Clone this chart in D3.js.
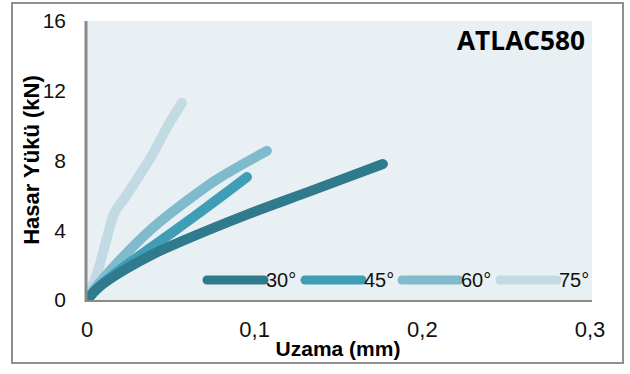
<!DOCTYPE html>
<html>
<head>
<meta charset="utf-8">
<script src="https://cdn.jsdelivr.net/npm/d3@7"></script>
<style>
  body { margin: 0; background: #fff; }
  svg { display: block; font-family: "Liberation Sans", Arial, sans-serif; }
</style>
</head>
<body>
<svg id="chart" width="630" height="374"></svg>
<script>
// series: [uzama (mm), yük (kN)]
const seriesNames = ["30°", "45°", "60°", "75°"];
const seriesColors = ["#2f7a8c", "#3f9db6", "#80bacd", "#c2dae3"];
const s30 = [[0, 0], [0.005, 0.55], [0.0107, 1.0], [0.0227, 1.75], [0.0388, 2.6], [0.0584, 3.45], [0.0954, 4.9], [0.1348, 6.3], [0.1765, 7.8]];
const s45 = [[0, 0], [0.005, 0.55], [0.0107, 1.05], [0.0227, 1.95], [0.0388, 3.05], [0.0584, 4.4], [0.0781, 5.8], [0.0954, 7.05]];
const s60 = [[0, 0], [0.003, 0.45], [0.0107, 1.35], [0.0227, 2.6], [0.0388, 4.1], [0.0584, 5.6], [0.0781, 6.95], [0.1073, 8.55]];
const s75 = [[0, 0], [0.002, 0.5], [0.006, 1.5], [0.0095, 2.7], [0.0128, 3.9], [0.0155, 4.8], [0.0185, 5.35], [0.0225, 5.85], [0.0286, 6.75], [0.0388, 8.3], [0.0483, 10.0], [0.0566, 11.3]];
const allSeries = [s30, s45, s60, s75];
const xTicks = [0, 0.1, 0.2, 0.3];
const yTicks = [0, 4, 8, 12, 16];

const svg = d3.select("#chart");

const plot = { left: 87, right: 592, top: 21, bottom: 300 };
const x = d3.scaleLinear().domain([0, 0.3]).range([87, 590]);
const y = d3.scaleLinear().domain([0, 16]).range([plot.bottom, plot.top]);

svg.append("clipPath").attr("id", "clip")
  .append("rect")
  .attr("x", plot.left).attr("y", plot.top)
  .attr("width", plot.right - plot.left).attr("height", plot.bottom - plot.top);

// outer frame
svg.append("rect")
  .attr("x", 12).attr("y", 3).attr("width", 611).attr("height", 360)
  .attr("fill", "none").attr("stroke", "#8f8f8f").attr("stroke-width", 2);

// plot background
svg.append("rect")
  .attr("x", plot.left).attr("y", plot.top)
  .attr("width", plot.right - plot.left).attr("height", plot.bottom - plot.top)
  .attr("fill", "#e8f0f3");

const fmt = d => String(d).replace(".", ",");

svg.selectAll(".xt").data(xTicks).enter().append("text")
  .attr("x", d => x(d)).attr("y", 337)
  .attr("text-anchor", "middle").attr("font-size", 22).attr("fill", "#111")
  .text(fmt);

svg.selectAll(".yt").data(yTicks).enter().append("text")
  .attr("x", 66).attr("y", d => y(d)).attr("dy", "0.35em")
  .attr("text-anchor", "end").attr("font-size", 21).attr("fill", "#111")
  .text(d => d);

// curves, drawn so the lighter ones sit underneath
const line = d3.line().x(d => x(d[0])).y(d => y(d[1])).curve(d3.curveCatmullRom.alpha(0.5));
const curves = svg.append("g").attr("clip-path", "url(#clip)");
for (let i = allSeries.length - 1; i >= 0; i--) {
  curves.append("path")
    .attr("d", line(allSeries[i]))
    .attr("fill", "none")
    .attr("stroke", seriesColors[i])
    .attr("stroke-width", 10)
    .attr("stroke-linecap", "round")
    .attr("stroke-linejoin", "round");
}

// axes
svg.append("line")
  .attr("x1", plot.left).attr("x2", plot.right).attr("y1", plot.bottom + 1).attr("y2", plot.bottom + 1)
  .attr("stroke", "#8a8a8a").attr("stroke-width", 2);
svg.append("line")
  .attr("x1", plot.left - 1).attr("x2", plot.left - 1).attr("y1", plot.top).attr("y2", plot.bottom + 2)
  .attr("stroke", "#8a8a8a").attr("stroke-width", 3);

// legend
const legendX = [207, 305, 402, 500];
seriesNames.forEach((name, i) => {
  svg.append("line")
    .attr("x1", legendX[i]).attr("x2", legendX[i] + 57)
    .attr("y1", 280).attr("y2", 280)
    .attr("stroke", seriesColors[i]).attr("stroke-width", 9)
    .attr("stroke-linecap", "round");
  svg.append("text")
    .attr("x", legendX[i] + 59).attr("y", 287)
    .attr("font-size", 20).attr("fill", "#111")
    .text(name);
});

// titles
svg.append("text")
  .attr("x", 585).attr("y", 50)
  .attr("text-anchor", "end")
  .attr("font-family", "'Open Sans', sans-serif")
  .attr("font-weight", "bold").attr("font-size", 26)
  .attr("textLength", 128).attr("lengthAdjust", "spacingAndGlyphs")
  .text("ATLAC580");

svg.append("text")
  .attr("x", 338).attr("y", 356)
  .attr("text-anchor", "middle")
  .attr("font-weight", "bold").attr("font-size", 21)
  .text("Uzama (mm)");

svg.append("text")
  .attr("transform", "translate(39,160) rotate(-90)")
  .attr("text-anchor", "middle")
  .attr("font-weight", "bold").attr("font-size", 22)
  .text("Hasar Yükü (kN)");

// caption, cut off by the bottom edge
svg.append("text")
  .attr("x", 20).attr("y", 386)
  .attr("font-family", "'Liberation Serif', serif")
  .attr("font-weight", "bold").attr("font-size", 16)
  .text("Şekil 10. ATLAC580 numunesine ait yük-uzama grafiği");
</script>
</body>
</html>
